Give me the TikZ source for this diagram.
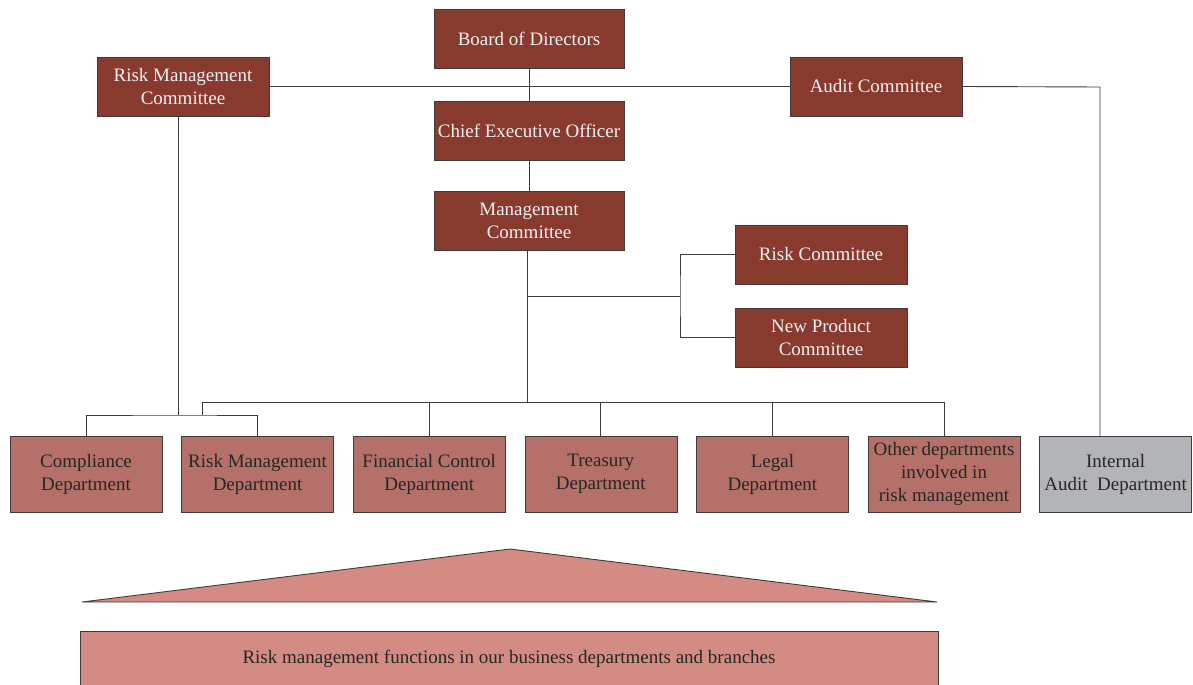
\documentclass[tikz,border=0pt]{standalone}
\usepackage{fontspec}
\setmainfont{Liberation Serif}
\usetikzlibrary{positioning}
\definecolor{boardred}{HTML}{893A2F}
\definecolor{deptred}{HTML}{B5706A}
\definecolor{auditgrey}{HTML}{B2B4B7}
\definecolor{funcpink}{HTML}{D48B84}
\definecolor{wire}{HTML}{3C3C3C}
\begin{document}
\begin{tikzpicture}[x=1bp,y=-1bp,node distance=19.6bp,
  every node/.style={font=\fontsize{19bp}{23bp}\selectfont,inner sep=0pt,outer sep=0pt,align=center},
  topbox/.style={draw=wire,fill=boardred,text=white!94!black,minimum height=59bp},
  deptbox/.style={draw=wire,fill=deptred,text=black!85,minimum width=152bp,minimum height=76bp},
  auditbox/.style={deptbox,fill=auditgrey},
  funcbox/.style={draw=wire,fill=funcpink,text=black!85,minimum width=858bp,minimum height=56bp},
  link/.style={draw=wire,line width=0.9bp}]
\useasboundingbox (0,0) rectangle (1193,685);
% governing bodies
\node[topbox,minimum width=190bp] (bod) at (529,38.5) {Board of Directors};
\node[topbox,minimum width=190bp] (ceo) at (529,130.5) {Chief Executive Officer};
\node[topbox,minimum width=190bp] (mc) at (529,220.5) {Management\\Committee};
\node[topbox,minimum width=172bp] (rmc) at (183,86.5) {Risk Management\\Committee};
\node[topbox,minimum width=172bp] (ac) at (876,86.5) {Audit Committee};
\node[topbox,minimum width=172bp] (rc) at (821,254.5) {Risk Committee};
\node[topbox,minimum width=172bp] (npc) at (821,337.5) {New Product\\Committee};
% departments
\node[deptbox] (comp) at (86,474) {Compliance\\Department};
\node[deptbox,right=of comp] (rmd) {Risk Management\\Department};
\node[deptbox,right=of rmd] (fin) {Financial Control\\Department};
\node[deptbox,right=of fin] (tre) {Treasury\\Department};
\node[deptbox,right=of tre] (leg) {Legal\\Department};
\node[deptbox,right=of leg] (oth) {Other departments\\involved in\\risk management};
\node[auditbox,right=of oth] (iad) {Internal\\Audit\ \ Department};
\node[funcbox] (func) at (509,659) {Risk management functions in our business departments and branches};
% roof
\draw[link,fill=funcpink] (82,602) -- (510,549) -- (937,602) -- cycle;
% junctions
\coordinate (jr) at (178,415);
\coordinate (jl) at (202,415);
\coordinate (jm) at (527,402);
\coordinate (jc) at (527,296);
\coordinate (jk) at (680,296);
\coordinate (ja) at (1100,87);
% connectors
\draw[link] (bod.south) -- (ceo.north);
\draw[link] (ceo.south) -- (mc.north);
\draw[link] (rmc.east) -- (ac.west);
\draw[link] (ac.east) -- (ja) -- (ja |- iad.north);
\draw[link] (rmc.south -| jr) -- (jr);
\draw[link] (comp.north) |- (jr) -| (rmd.north);
\draw[link] (mc.south -| jm) -- (jm);
\draw[link] (jc) -- (jk);
\draw[link] (rc.west) -| (jk) |- (npc.west);
\draw[link] (jl) |- (oth.north |- jm) -- (oth.north);
\foreach \d in {fin,tre,leg}{\draw[link] (\d.north |- jm) -- (\d.north);}
\end{tikzpicture}
\end{document}
